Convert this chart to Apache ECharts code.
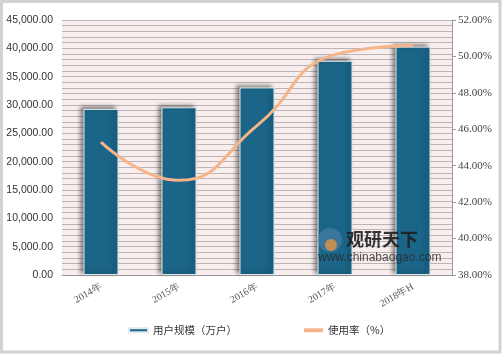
<!DOCTYPE html>
<html><head><meta charset="utf-8">
<script src="https://cdn.jsdelivr.net/npm/echarts@6/dist/echarts.min.js"></script>
<style>html,body{margin:0;padding:0;background:#fff}
#c{width:502px;height:354px}</style>
</head><body><div id="c"></div>
<script>
const categories = ['2014年','2015年','2016年','2017年','2018年H'];
const users = [29300, 29600, 33100, 37800, 40300];
const rate = [45.3, 43.2, 46.2, 50.1, 50.6];
const leftTicks = {min:0, max:45000, interval:5000};
const rightTicks = {min:38, max:52, interval:2};

const chart = echarts.init(document.getElementById('c'));
chart.setOption({
  animation:false,
  backgroundColor:'#fff',
  grid:{left:62, right:50, top:20, bottom:79, show:true, backgroundColor:'#f8eeee', borderWidth:0},
  legend:{left:123, top:320, itemGap:67, itemWidth:19, itemHeight:4, textStyle:{fontSize:10.5, color:'#333', fontFamily:'Noto Sans CJK SC'},
    data:[{name:'用户规模（万户）', icon:'rect'},{name:'使用率（%）', icon:'rect'}]},
  xAxis:{type:'category', data:categories,
    axisLine:{lineStyle:{color:'#999'}}, axisTick:{show:false},
    axisLabel:{rotate:30, fontSize:10, color:'#555', fontFamily:'Liberation Serif', margin:11}},
  yAxis:[{type:'value', min:leftTicks.min, max:leftTicks.max, interval:leftTicks.interval,
    axisLine:{show:false}, axisTick:{show:false},
    axisLabel:{fontSize:10.5, color:'#333', fontFamily:'Liberation Sans', margin:9,
      formatter:v=>v.toLocaleString('en-US',{minimumFractionDigits:2, maximumFractionDigits:2})},
    splitLine:{lineStyle:{color:'#bdb5b5'}},
    minorTick:{show:false, splitNumber:5},
    minorSplitLine:{show:true, lineStyle:{color:'#bdb5b5'}}},
   {type:'value', min:rightTicks.min, max:rightTicks.max, interval:rightTicks.interval, position:'right',
    axisLine:{show:true, lineStyle:{color:'#999'}}, axisTick:{show:true, length:4, lineStyle:{color:'#999'}},
    axisLabel:{fontSize:11, color:'#444', fontFamily:'Liberation Serif', margin:6, formatter:v=>v.toFixed(2)+'%'},
    splitLine:{show:false}}],
  series:[
    {name:'用户规模（万户）', type:'bar', data:users, barWidth:35, yAxisIndex:0,
      itemStyle:{color:'#1b6588', borderColor:'#dfe8ee', borderWidth:1, shadowColor:'rgba(0,0,0,0.45)', shadowBlur:4, shadowOffsetX:-3, shadowOffsetY:-2}},
    {name:'使用率（%）', type:'line', data:rate, yAxisIndex:1, smooth:true, symbol:'none',
      lineStyle:{color:'#f5b48a', width:3}, itemStyle:{color:'#f5b48a'}}
  ],
  graphic:[
    {type:'rect', z:100, silent:true, shape:{x:1.5, y:1.5, width:498.5, height:350.5}, style:{fill:'none', stroke:'#d2d2d2', lineWidth:3}},
    {type:'circle', z:100, shape:{cx:330, cy:240, r:12}, style:{fill:'rgba(80,130,170,0.6)'}},
    {type:'circle', z:100, shape:{cx:331, cy:245, r:6}, style:{fill:'rgba(240,150,60,0.75)'}},
    {type:'text', z:100, left:346, top:230, style:{text:'观研天下', font:'bold 18px "Noto Sans CJK SC"', fill:'rgba(30,30,30,0.9)'}},
    {type:'text', z:100, left:318, top:252, style:{text:'www.chinabaogao.com', font:'12px "Liberation Sans"', fill:'rgba(40,40,40,0.8)'}}
  ]
});
</script></body></html>
